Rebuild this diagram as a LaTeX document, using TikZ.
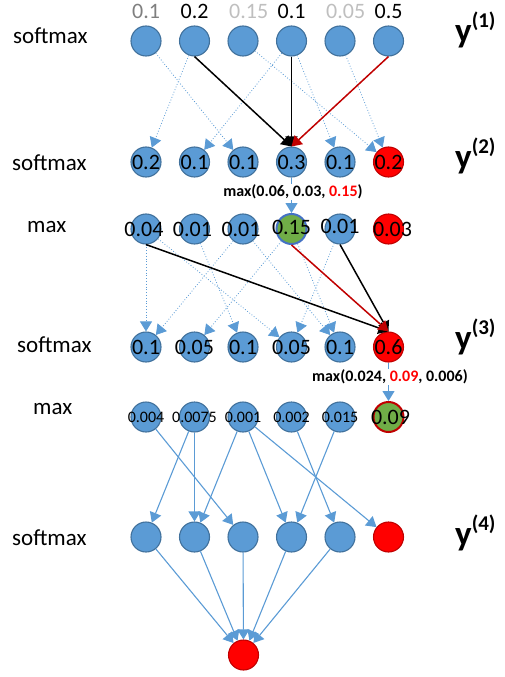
\documentclass[tikz,border=0pt]{standalone}
\usepackage{fontspec}
\setmainfont{Carlito}
\usepackage{xcolor}
\usepackage{tikz}
\usetikzlibrary{positioning,%
  arrows.meta,%
  calc}

\definecolor{unitblue}{HTML}{5B9BD5}
\definecolor{unitedge}{HTML}{41719C}
\definecolor{unitgreen}{HTML}{70AD47}
\definecolor{edgeblue}{HTML}{4472C4}
\definecolor{darkred}{HTML}{C00000}
\definecolor{midgray}{HTML}{7F7F7F}
\definecolor{palegray}{HTML}{BFBFBF}

\tikzset{
  unit/.style={circle,minimum size=30pt,inner sep=0pt,fill=unitblue,draw=unitedge,line width=1.1pt},
  hotunit/.style={unit,fill=red,draw=darkred},
  winunit/.style={unit,fill=unitgreen,line width=2pt},
  bignum/.style={font=\fontsize{22}{22}\selectfont,inner sep=0pt},
  smallnum/.style={font=\fontsize{16}{16}\selectfont,inner sep=0pt},
  rowname/.style={font=\fontsize{23}{23}\selectfont,anchor=base west,inner sep=0pt},
  layername/.style={font=\fontsize{35}{35}\selectfont\bfseries,anchor=base west,inner sep=0pt},
  maxnote/.style={font=\fontsize{16}{16}\selectfont\bfseries,fill=white,inner sep=0.5pt},
  headed/.style={-{Triangle[width=12pt,length=10pt]}},
  weak/.style={headed,unitblue,dotted,line width=0.8pt},
  link/.style={headed,unitblue,line width=1.1pt},
  best/.style={headed,black,line width=1.5pt},
  pick/.style={headed,darkred,line width=1.5pt}
}

\begin{document}
\begin{tikzpicture}[x=1pt,y=-1pt]
  \useasboundingbox (0,0) rectangle (504,677);

  % y(1)
  \foreach \v/\c [count=\i] in {0.1/midgray,0.2/black,0.15/palegray,0.1/black,0.05/palegray,0.5/black}
  {
    \node[unit] (a\i) at ({97.5+48.5*\i},41) {};
    \node[bignum,text=\c,anchor=west] (a\i-v) at ({83.5+48.5*\i},11) {\v};
  }

  % y(2)
  \foreach \v [count=\i] in {0.2,0.1,0.1,0.3,0.1}
    \node[unit,label={[bignum]center:\v}] (b\i) at ({97.5+48.5*\i},162) {};
  \node[hotunit,label={[bignum]center:0.2}] (b6) at (388.5,162) {};

  % max over y(2)
  \foreach \v [count=\i] in {0.04,0.01,0.01}
    \node[unit,label={[bignum,xshift=-2pt]center:\v}] (c\i) at ({97.5+48.5*\i},229) {};
  \node[winunit,draw=edgeblue,label={[bignum,yshift=2pt]center:0.15}] (c4) at (291.5,229) {};
  \node[unit,label={[bignum,yshift=3pt]center:0.01}] (c5) at (340,229) {};
  \node[hotunit,label={[bignum,xshift=4pt]center:0.03}] (c6) at (388.5,229) {};

  % y(3)
  \foreach \v [count=\i] in {0.1,0.05,0.1,0.05,0.1}
    \node[unit,label={[bignum]center:\v}] (d\i) at ({97.5+48.5*\i},347) {};
  \node[hotunit,label={[bignum]center:0.6}] (d6) at (388.5,347) {};

  % max over y(3)
  \foreach \v [count=\i] in {0.004,0.0075,0.001,0.002,0.015}
    \node[unit,label={[smallnum]center:\v}] (e\i) at ({97.5+48.5*\i},417) {};
  \node[winunit,draw=darkred,label={[bignum,xshift=2pt]center:0.09}] (e6) at (388.5,417) {};

  % y(4)
  \foreach \i in {1,...,5}
    \node[unit] (f\i) at ({97.5+48.5*\i},537) {};
  \node[hotunit] (f6) at (388.5,537) {};
  \node[hotunit] (g) at (243.5,655) {};

  % connections
  \foreach \s/\t in {a1/b3,a2/b1,a3/b6,a4/b2,a4/b5,a5/b6}
    \draw[weak] (\s) -- (\t);
  \draw[best] (a2.south) -- (b4.north);
  \draw[best] (a4.south) -- (b4.north);
  \draw[pick] (a6.south) -- (b4.north);

  \draw[link] (b4) -- (c4);
  \node[maxnote] (n2) at (293,192) {max(0.06, 0.03, \textcolor{red}{0.15})};

  \foreach \s/\t in {c1/d1,c1/d4,c2/d3,c3/d1,c3/d5,c4/d2,c4/d5,c5/d4}
    \draw[weak] (\s) -- (\t);
  \draw[best] (c1.south) -- (d6.north);
  \draw[best] (c5.south) -- (d6.north);
  \draw[pick] (c4.south) -- (d6.north);

  \draw[link] (d6) -- (e6);
  \node[maxnote] (n3) at (390,377) {max(0.024, \textcolor{red}{0.09}, 0.006)};

  \foreach \s/\t in {e1/f3,e2/f1,e2/f2,e3/f2,e3/f4,e3/f6,e4/f5,e5/f4}
    \draw[link] (\s) -- (\t);
  \foreach \i in {1,...,5}
    \draw[link] (f\i) -- (g);

  % row names
  \node[rowname] (r1) at (13,44) {softmax};
  \node[rowname] (r2) at (12,170) {softmax};
  \node[rowname] (r3) at (27,232) {max};
  \node[rowname] (r4) at (17,352) {softmax};
  \node[rowname] (r5) at (33,414) {max};
  \node[rowname] (r6) at (12,545) {softmax};

  % layer names
  \node[layername] (l1) at (455,43) {y\raisebox{15pt}{\fontsize{21}{21}\selectfont(1)}};
  \node[layername] (l2) at (455,168) {y\raisebox{15pt}{\fontsize{21}{21}\selectfont(2)}};
  \node[layername] (l3) at (455,349) {y\raisebox{15pt}{\fontsize{21}{21}\selectfont(3)}};
  \node[layername] (l4) at (455,545) {y\raisebox{15pt}{\fontsize{21}{21}\selectfont(4)}};
\end{tikzpicture}
\end{document}
